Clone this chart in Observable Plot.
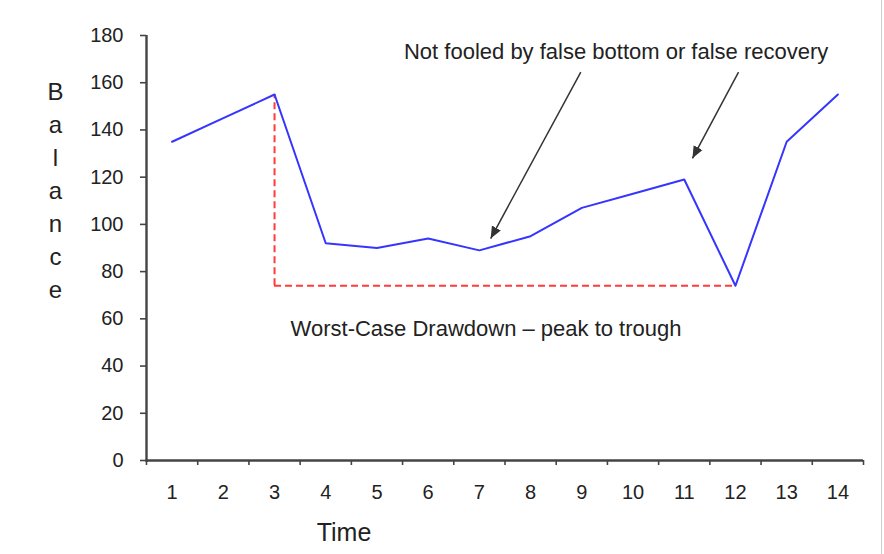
<!DOCTYPE html>
<html>
<head>
<meta charset="utf-8">
<script src="https://cdn.jsdelivr.net/npm/d3@7"></script>
<script src="https://cdn.jsdelivr.net/npm/@observablehq/plot@0.6"></script>
<style>
  html, body { margin: 0; padding: 0; background: #fff; }
  #chart { position: relative; width: 884px; height: 554px; overflow: hidden; }
  #chart .edge { position: absolute; left: 881px; top: 0; width: 1px; height: 554px; background: #cdcdcd; }
</style>
</head>
<body>
<div id="chart"><div class="edge"></div></div>
<script>
// Account balance over 14 periods
const time = [1, 2, 3, 4, 5, 6, 7, 8, 9, 10, 11, 12, 13, 14];
const balance = [135, 145, 155, 92, 90, 94, 89, 95, 107, 113, 119, 74, 135, 155];
const yTicks = [0, 20, 40, 60, 80, 100, 120, 140, 160, 180];
const xTickLabels = time;
// category boundaries, where the x-axis tick marks sit
const xBoundaries = d3.range(0.5, 15, 1);

// Callout text, placed in data units
const notes = [
  {x: 9.67, y: 173.2, text: "Not fooled by false bottom or false recovery"},
  {x: 7.13, y: 55.9, text: "Worst-Case Drawdown \u2013 peak to trough"}
];
// Arrows from the callout down to the false bottom and the false recovery
const callouts = [
  {x1: 8.98, y1: 164.5, x2: 7.22, y2: 94},
  {x1: 12.06, y1: 164.5, x2: 11.16, y2: 128}
];

const rows = time.map((t, i) => ({time: t, balance: balance[i]}));

// Worst drawdown: largest drop from a running peak to a later trough
let runPeak = 0, best = {drop: -Infinity, peak: 0, trough: 0};
rows.forEach((d, i) => {
  if (d.balance > rows[runPeak].balance) runPeak = i;
  const drop = rows[runPeak].balance - d.balance;
  if (drop > best.drop) best = {drop, peak: runPeak, trough: i};
});
const peak = rows[best.peak];
const trough = rows[best.trough];

// Filled triangular arrowhead
function filledArrow(color) {
  const m = d3.create("svg:marker")
    .attr("viewBox", "-10 -5 10 10")
    .attr("markerWidth", 8)
    .attr("markerHeight", 8)
    .attr("refX", 0)
    .attr("refY", 0)
    .attr("orient", "auto")
    .attr("fill", color)
    .attr("stroke", "none");
  m.append("path").attr("d", "M-10,-4.2L0,0L-10,4.2Z");
  return m.node();
}

const axisColor = "#444";
const textColor = "#222";

const chart = Plot.plot({
  width: 884,
  height: 554,
  marginLeft: 146,
  marginRight: 21,
  marginTop: 35,
  marginBottom: 94,
  style: {fontFamily: "'Liberation Sans', Arial, sans-serif", color: textColor, background: "#fff", overflow: "visible"},
  x: {type: "linear", domain: [0.5, 14.5]},
  y: {domain: [0, 180]},
  marks: [
    // axis lines
    Plot.ruleX([0.5], {stroke: axisColor, strokeWidth: 2.4, insetBottom: -2}),
    Plot.ruleY([0], {stroke: axisColor, strokeWidth: 2.4}),
    Plot.axisY({ticks: yTicks, tickSize: 6, tickPadding: 17, fontSize: 20, stroke: axisColor, strokeWidth: 1.6, label: null}),
    Plot.axisX({ticks: xBoundaries, tickSize: 5, tickFormat: () => "", stroke: axisColor, strokeWidth: 1.6, label: null}),
    Plot.axisX({ticks: xTickLabels, tickSize: 0, tickPadding: 24, fontSize: 20, label: null}),
    // axis titles
    Plot.text(["B\na\nl\na\nn\nc\ne"], {frameAnchor: "left", dx: -91, dy: -60, text: d => d, fontSize: 24, lineHeight: 1.375, textAnchor: "middle", lineAnchor: "middle", fill: textColor}),
    Plot.text(["Time"], {frameAnchor: "bottom", dx: -161, dy: 72, text: d => d, fontSize: 25, textAnchor: "middle", lineAnchor: "middle", fill: textColor}),
    // drawdown guide: down from the peak, across to the trough
    Plot.ruleX([peak], {x: "time", y1: trough.balance, y2: "balance", stroke: "#ff3b3b", strokeWidth: 2, strokeDasharray: "7,4"}),
    Plot.ruleY([trough], {y: "balance", x1: peak.time, x2: "time", stroke: "#ff3b3b", strokeWidth: 2, strokeDasharray: "7,4"}),
    // balance line
    Plot.line(rows, {x: "time", y: "balance", stroke: "#3535ff", strokeWidth: 2}),
    // callouts
    Plot.link(callouts, {x1: "x1", y1: "y1", x2: "x2", y2: "y2", stroke: "#333", strokeWidth: 1.5, markerEnd: filledArrow}),
    Plot.text(notes, {x: "x", y: "y", text: "text", fontSize: 22, textAnchor: "middle", fill: textColor})
  ]
});

document.getElementById("chart").prepend(chart);
</script>
</body>
</html>
